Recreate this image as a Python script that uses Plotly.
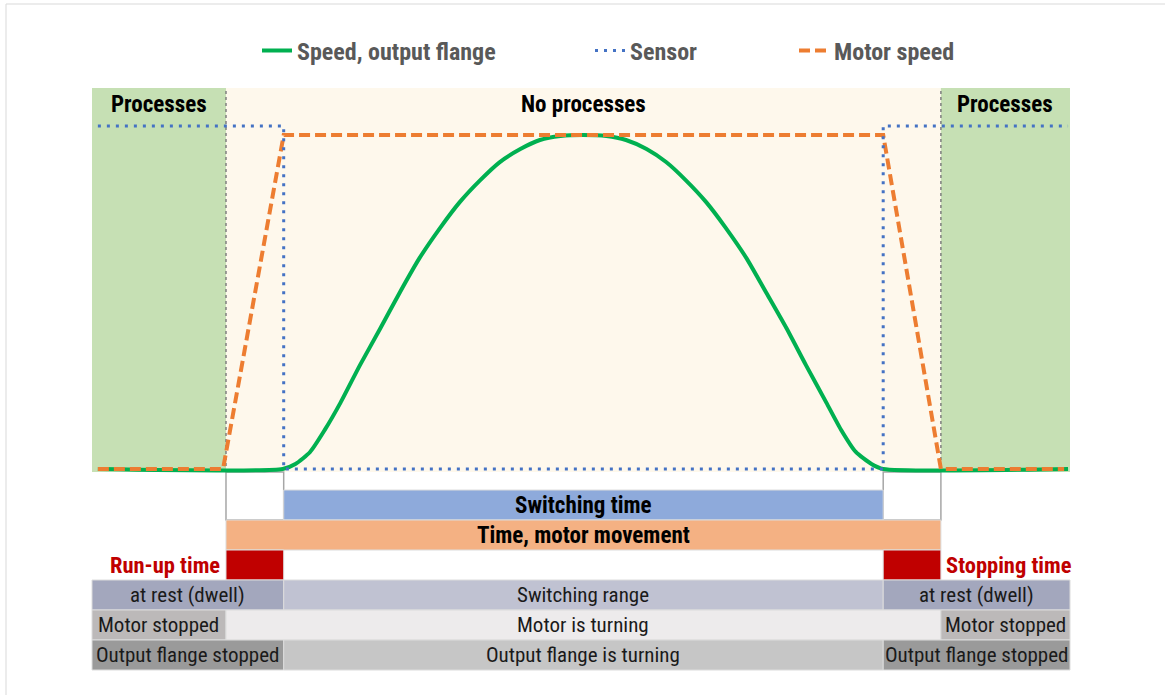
import plotly.graph_objects as go

# ---------------- data ----------------
# phase boundaries on the time axis (arbitrary time units, 0..100)
t_start = 0.0
t_motor_on = 13.7
t_switch_on = 19.6
t_switch_off = 80.9
t_motor_off = 86.8
t_end = 100.0

# Motor speed (normalised)
motor_t = [0.6, 13.4, 19.6, 80.9, 86.8, 99.4]
motor_v = [0.0, 0.0, 1.0, 1.0, 0.0, 0.0]

# Sensor signal
sensor_t = [0.6, 19.6, 19.6, 80.9, 80.9, 99.8]
sensor_v = [1.027, 1.027, 0.0, 0.0, 1.027, 1.027]

# Speed, output flange
flange_t = [0.6, 19.5, 20.8, 22.3, 23.8, 25.4, 27.4, 29.5, 31.5, 33.5, 35.6, 37.6,
            39.7, 41.7, 43.8, 45.8, 47.9, 50.2, 52.6, 54.6, 56.7, 58.7, 60.7, 62.8,
            64.8, 66.9, 68.9, 71.0, 73.0, 75.1, 76.6, 78.1, 79.7, 80.9, 99.8]
flange_v = [0.0, 0.0, 0.015, 0.051, 0.117, 0.198, 0.311, 0.422, 0.530, 0.632, 0.722, 0.799,
            0.865, 0.919, 0.958, 0.985, 0.997, 1.0, 0.997, 0.985, 0.958, 0.919, 0.865, 0.799,
            0.722, 0.632, 0.530, 0.422, 0.311, 0.198, 0.117, 0.051, 0.015, 0.0, 0.0]

series_names = ["Speed, output flange", "Sensor", "Motor speed"]

zone_starts = [t_start, t_motor_on, t_motor_off]
zone_ends = [t_motor_on, t_motor_off, t_end]
zone_labels = ["Processes", "No processes", "Processes"]
zone_top = 1.141

# table rows (row index 0 = top)
row0_starts = [t_switch_on]
row0_ends = [t_switch_off]
row0_labels = ["Switching time"]

row1_starts = [t_motor_on]
row1_ends = [t_motor_off]
row1_labels = ["Time, motor movement"]

row2_starts = [t_motor_on, t_switch_off]
row2_ends = [t_switch_on, t_motor_off]
row2_labels = ["Run-up time", "Stopping time"]

row3_starts = [t_start, t_switch_on, t_switch_off]
row3_ends = [t_switch_on, t_switch_off, t_end]
row3_labels = ["at rest (dwell)", "Switching range", "at rest (dwell)"]

row4_starts = [t_start, t_motor_on, t_motor_off]
row4_ends = [t_motor_on, t_motor_off, t_end]
row4_labels = ["Motor stopped", "Motor is turning", "Motor stopped"]

row5_starts = [t_start, t_switch_on, t_switch_off]
row5_ends = [t_switch_on, t_switch_off, t_end]
row5_labels = ["Output flange stopped", "Output flange is turning", "Output flange stopped"]

# ---------------- styling / layout ----------------
W, H = 1165, 695
FONT = "Liberation Sans Narrow, Roboto Condensed, DejaVu Sans Condensed, Arial Narrow, sans-serif"

px0, px_per_t = 92.0, 9.78          # x pixel of t=0, pixels per time unit
py0, py_per_v = 469.0, 334.0        # y pixel of speed 0, pixels per speed unit
row_top_px, row_h_px = 490.0, 30.0  # table rows

x_range = [-px0 / px_per_t, (W - px0) / px_per_t]
y_range = [-(H - py0) / py_per_v, py0 / py_per_v]
y2_range = [(H - row_top_px) / row_h_px, -row_top_px / row_h_px]

C_GREEN_ZONE = "#c6e0b4"
C_BEIGE_ZONE = "#fef8ec"
fig = go.Figure()

# table bars
row_colors = [
    ["#8eaadb"],
    ["#f4b183"],
    ["#c00000", "#c00000"],
    ["#a3a7bd", "#c0c2d2", "#a3a7bd"],
    ["#bcb9b9", "#edebec", "#bcb9b9"],
    ["#9a9a9a", "#c6c6c6", "#9a9a9a"],
]
rows = [(row0_starts, row0_ends), (row1_starts, row1_ends), (row2_starts, row2_ends),
        (row3_starts, row3_ends), (row4_starts, row4_ends), (row5_starts, row5_ends)]
for r, (st, en) in enumerate(rows):
    fig.add_trace(go.Bar(
        orientation="h", y=[r + 0.5] * len(st), x=[e - s for s, e in zip(st, en)], base=st,
        width=1, marker=dict(color=row_colors[r], line=dict(color="#dcdcdc", width=1)),
        xaxis="x", yaxis="y2", showlegend=False, hoverinfo="skip"))

# lines
fig.add_trace(go.Scatter(x=flange_t, y=flange_v, mode="lines", name=series_names[0],
                         line=dict(color="#00b050", width=4, shape="spline", smoothing=0.6),
                         legend="legend", hoverinfo="skip"))
fig.add_trace(go.Scatter(x=motor_t, y=motor_v, mode="lines", name=series_names[2],
                         line=dict(color="#ed7d31", width=4, dash="11px,5px"),
                         legend="legend3", hoverinfo="skip"))
fig.add_trace(go.Scatter(x=sensor_t, y=sensor_v, mode="lines", name=series_names[1],
                         line=dict(color="#4472c4", width=3, dash="3px,6px"),
                         legend="legend2", hoverinfo="skip"))

shapes = []
# zones
for s, e, c in zip(zone_starts, zone_ends, [C_GREEN_ZONE, C_BEIGE_ZONE, C_GREEN_ZONE]):
    shapes.append(dict(type="rect", xref="x", yref="y", x0=s, x1=e, y0=-0.009, y1=zone_top,
                       fillcolor=c, line=dict(width=0), layer="below"))
for xv in [t_motor_on, t_motor_off]:
    shapes.append(dict(type="line", xref="x", yref="y", x0=xv, x1=xv, y0=-0.009, y1=zone_top,
                       line=dict(color="#7f7f7f", width=1.5, dash="dot"), layer="below"))
# white boxes between chart and table
for s, e in [(t_motor_on, t_switch_on), (t_switch_off, t_motor_off)]:
    shapes.append(dict(type="rect", xref="x", yref="y2", x0=s, x1=e, y0=-0.6, y1=1.0,
                       fillcolor="white", line=dict(color="#a6a6a6", width=1.5), layer="below"))
# outer frame
shapes.append(dict(type="rect", xref="paper", yref="paper", x0=6 / W, x1=1.02, y0=-0.02,
                   y1=1 - 4 / H, line=dict(color="#d9d9d9", width=1), fillcolor="rgba(0,0,0,0)"))

ann = []
for s, e, lab in zip(zone_starts, zone_ends, zone_labels):
    ann.append(dict(x=(s + e) / 2, y=(py0 - 104) / py_per_v, xref="x", yref="y", text=lab,
                    showarrow=False, font=dict(family=FONT, size=23, color="#000000", weight="bold")))

def row_text(r, st, en, labels, bold=False):
    for s, e, lab in zip(st, en, labels):
        ann.append(dict(x=(s + e) / 2, y=r + 0.5, xref="x", yref="y2", text=lab, showarrow=False,
                        font=dict(family=FONT, size=23 if bold else 21,
                                  color="#000000" if bold else "#1a1a1a",
                                  weight="bold" if bold else "normal")))

row_text(0, row0_starts, row0_ends, row0_labels, bold=True)
row_text(1, row1_starts, row1_ends, row1_labels, bold=True)
row_text(3, row3_starts, row3_ends, row3_labels)
row_text(4, row4_starts, row4_ends, row4_labels)
row_text(5, row5_starts, row5_ends, row5_labels)
ann.append(dict(x=row2_starts[0], y=2.5, xref="x", yref="y2", text=row2_labels[0], showarrow=False,
                xanchor="right", xshift=-4,
                font=dict(family=FONT, size=22.5, color="#c00000", weight="bold")))
ann.append(dict(x=row2_ends[1], y=2.5, xref="x", yref="y2", text=row2_labels[1], showarrow=False,
                xanchor="left", xshift=3,
                font=dict(family=FONT, size=22.5, color="#c00000", weight="bold")))

leg_font = dict(family=FONT, size=24, color="#595959", weight="bold")
leg_common = dict(orientation="h", yanchor="middle", y=1 - 51 / H, xanchor="left",
                  bgcolor="rgba(0,0,0,0)", borderwidth=0, font=leg_font)

fig.update_layout(
    width=W, height=H, autosize=False,
    margin=dict(l=0, r=0, t=0, b=0),
    paper_bgcolor="white", plot_bgcolor="white",
    barmode="overlay",
    xaxis=dict(range=x_range, visible=False, fixedrange=True),
    yaxis=dict(range=y_range, visible=False, fixedrange=True),
    yaxis2=dict(range=y2_range, visible=False, fixedrange=True, overlaying="y"),
    shapes=shapes, annotations=ann,
    legend=dict(x=(297 - 40) / W, **leg_common),
    legend2=dict(x=(631 - 41) / W, **leg_common),
    legend3=dict(x=(835 - 41) / W, **leg_common),
    showlegend=True,
)

fig.write_html("out.html", config={"displayModeBar": False},
               post_script="document.body.style.margin='0px';")
